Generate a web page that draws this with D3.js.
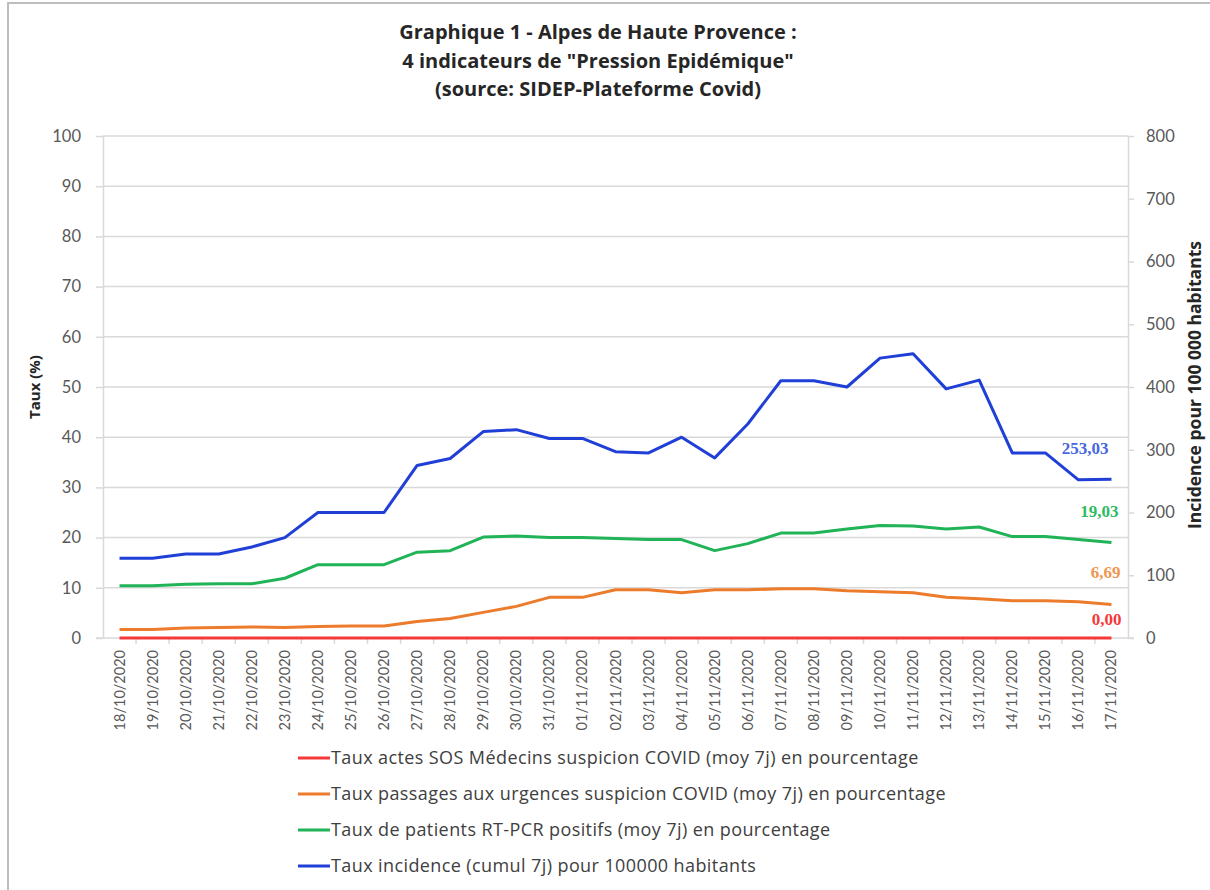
<!DOCTYPE html>
<html>
<head>
<meta charset="utf-8">
<script src="https://cdn.jsdelivr.net/npm/d3@7"></script>
<style>
  body { margin: 0; background: #fff; }
  svg { font-family: Lato, "Open Sans", sans-serif; }
</style>
</head>
<body>
<svg id="chart" width="1210" height="890"></svg>
<script>
const dates = ['18/10/2020', '19/10/2020', '20/10/2020', '21/10/2020', '22/10/2020', '23/10/2020',
  '24/10/2020', '25/10/2020', '26/10/2020', '27/10/2020', '28/10/2020', '29/10/2020', '30/10/2020',
  '31/10/2020', '01/11/2020', '02/11/2020', '03/11/2020', '04/11/2020', '05/11/2020', '06/11/2020',
  '07/11/2020', '08/11/2020', '09/11/2020', '10/11/2020', '11/11/2020', '12/11/2020', '13/11/2020',
  '14/11/2020', '15/11/2020', '16/11/2020', '17/11/2020'];

// left axis (%)
const sosMedecins = [0, 0, 0, 0, 0, 0, 0, 0, 0, 0, 0, 0, 0, 0, 0, 0, 0, 0, 0, 0, 0, 0, 0, 0, 0, 0, 0, 0, 0, 0, 0];
const urgences = [1.7, 1.7, 2.0, 2.1, 2.2, 2.1, 2.3, 2.4, 2.4, 3.3, 3.9, 5.1, 6.3, 8.1, 8.1, 9.6,
  9.6, 9.0, 9.6, 9.6, 9.8, 9.8, 9.4, 9.2, 9.0, 8.1, 7.8, 7.4, 7.4, 7.2, 6.69];
const rtPcr = [10.4, 10.4, 10.7, 10.8, 10.8, 11.9, 14.6, 14.6, 14.6, 17.1, 17.4, 20.1, 20.3, 20.0, 20.0, 19.8,
  19.6, 19.6, 17.4, 18.8, 20.9, 20.9, 21.7, 22.4, 22.3, 21.7, 22.1, 20.2, 20.2, 19.6, 19.03];
// right axis (pour 100 000 habitants)
const incidence = [127, 127, 134, 134, 145, 160, 200, 200, 200, 275, 286, 329, 332, 318, 318, 297,
  295, 320, 287, 341, 410, 410, 400, 446, 453, 397, 411, 295, 295, 252, 253.03];

const leftTicks = [0, 10, 20, 30, 40, 50, 60, 70, 80, 90, 100];
const rightTicks = [0, 100, 200, 300, 400, 500, 600, 700, 800];

const series = [
  { name: 'Taux actes SOS Médecins suspicion COVID (moy 7j) en pourcentage', values: sosMedecins, axis: 'left', color: '#f5393b', labelColor: '#f5393b' },
  { name: 'Taux passages aux urgences suspicion COVID (moy 7j) en pourcentage', values: urgences, axis: 'left', color: '#ec7b2c', labelColor: '#f0954e' },
  { name: 'Taux de patients RT-PCR positifs (moy 7j) en pourcentage', values: rtPcr, axis: 'left', color: '#21b357', labelColor: '#2dbb62' },
  { name: 'Taux incidence (cumul 7j) pour 100000 habitants', values: incidence, axis: 'right', color: '#1f3fd6', labelColor: '#4667df' }
];

const svg = d3.select('#chart');
const m = { left: 103, right: 1128, top: 136, bottom: 638 };

// frame
svg.append('rect')
  .attr('x', 8).attr('y', 3).attr('width', 1210).attr('height', 900)
  .attr('fill', 'none').attr('stroke', '#bdbdbd').attr('stroke-width', 2);

const x = d3.scaleBand().domain(dates).range([m.left, m.right]);
const yL = d3.scaleLinear().domain([0, 100]).range([m.bottom, m.top]);
const yR = d3.scaleLinear().domain([0, 800]).range([m.bottom, m.top]);
const cx = d => x(d) + x.bandwidth() / 2;

// title
const title = ['Graphique 1 - Alpes de Haute Provence :', '4 indicateurs de "Pression Epidémique"', '(source: SIDEP-Plateforme Covid)'];
svg.append('g').selectAll('text')
  .data(title)
  .enter().append('text')
  .attr('x', 598)
  .attr('y', (d, i) => 39 + i * 28.5)
  .attr('text-anchor', 'middle')
  .attr('font-family', '"Open Sans", sans-serif')
  .attr('font-size', 20)
  .attr('font-weight', 'bold')
  .attr('fill', '#262626')
  .text(d => d);

// grid + left axis
const gL = svg.append('g')
  .attr('transform', 'translate(' + m.left + ',0)')
  .call(d3.axisLeft(yL).tickValues(leftTicks).tickSize(7).tickPadding(15).tickSizeOuter(0));
gL.select('.domain').attr('stroke', '#d9d9d9').attr('stroke-width', 1.5);
gL.selectAll('.tick line').attr('stroke', '#d9d9d9').attr('stroke-width', 1.5);
gL.selectAll('.tick text').attr('font-size', 16.5).attr('fill', '#595959').attr('font-family', 'Lato, sans-serif');

svg.append('g').selectAll('line')
  .data(leftTicks.filter(d => d > 0))
  .enter().append('line')
  .attr('x1', m.left).attr('x2', m.right)
  .attr('y1', d => yL(d)).attr('y2', d => yL(d))
  .attr('stroke', '#d9d9d9').attr('stroke-width', 1.5);

// right axis
const gR = svg.append('g')
  .attr('transform', 'translate(' + m.right + ',0)')
  .call(d3.axisRight(yR).tickValues(rightTicks).tickSize(6).tickPadding(12).tickSizeOuter(0));
gR.select('.domain').attr('stroke', '#d9d9d9').attr('stroke-width', 1.5);
gR.selectAll('.tick line').attr('stroke', '#d9d9d9').attr('stroke-width', 1.5);
gR.selectAll('.tick text').attr('font-size', 16.5).attr('fill', '#595959').attr('font-family', 'Lato, sans-serif');

// x axis
svg.append('line')
  .attr('x1', m.left - 7).attr('x2', m.right + 6)
  .attr('y1', m.bottom).attr('y2', m.bottom)
  .attr('stroke', '#d9d9d9').attr('stroke-width', 1.5);
svg.append('g').selectAll('line')
  .data(dates.slice(1))
  .enter().append('line')
  .attr('x1', d => x(d)).attr('x2', d => x(d))
  .attr('y1', m.bottom).attr('y2', m.bottom + 6)
  .attr('stroke', '#d9d9d9').attr('stroke-width', 1.5);
svg.append('g').selectAll('text')
  .data(dates)
  .enter().append('text')
  .attr('transform', d => 'translate(' + (cx(d) + 5) + ',' + (m.bottom + 12) + ') rotate(-90)')
  .attr('text-anchor', 'end')
  .attr('font-size', 14.5)
  .attr('fill', '#595959')
  .text(d => d);

// axis titles
svg.append('text')
  .attr('transform', 'translate(40,387) rotate(-90)')
  .attr('text-anchor', 'middle')
  .attr('font-family', '"Open Sans", sans-serif')
  .attr('font-size', 15)
  .attr('font-weight', 'bold')
  .attr('fill', '#262626')
  .text('Taux (%)');
svg.append('text')
  .attr('transform', 'translate(1201,385) rotate(-90)')
  .attr('text-anchor', 'middle')
  .attr('font-family', '"Open Sans", sans-serif')
  .attr('font-size', 17.5)
  .attr('font-weight', 'bold')
  .attr('fill', '#262626')
  .text('Incidence pour 100 000 habitants');

// lines
series.forEach(s => {
  const y = s.axis === 'left' ? yL : yR;
  const line = d3.line()
    .x((d, i) => cx(dates[i]))
    .y(d => y(d));
  svg.append('path')
    .datum(s.values)
    .attr('fill', 'none')
    .attr('stroke', s.color)
    .attr('stroke-width', 3)
    .attr('stroke-linejoin', 'round')
    .attr('d', line);
});

// end labels
const fmt = v => v.toFixed(2).replace('.', ',');
const labelOffsets = [{ dx: 10, dy: -13 }, { dx: 9, dy: -26 }, { dx: 7, dy: -25 }, { dx: -3, dy: -25 }];
series.forEach((s, k) => {
  const y = s.axis === 'left' ? yL : yR;
  const last = s.values.length - 1;
  svg.append('text')
    .attr('x', cx(dates[last]) + labelOffsets[k].dx)
    .attr('y', y(s.values[last]) + labelOffsets[k].dy)
    .attr('text-anchor', 'end')
    .attr('font-family', '"Liberation Serif", "DejaVu Serif", serif')
    .attr('font-weight', 'bold')
    .attr('font-size', 17)
    .attr('fill', s.labelColor)
    .text(fmt(s.values[last]));
});

// legend
const legend = svg.append('g').selectAll('g')
  .data(series)
  .enter().append('g')
  .attr('transform', (d, i) => 'translate(298,' + (758 + i * 36) + ')');
legend.append('line')
  .attr('x1', 0).attr('x2', 32)
  .attr('stroke', d => d.color)
  .attr('stroke-width', 3);
legend.append('text')
  .attr('x', 33)
  .attr('y', 6)
  .attr('font-family', '"Open Sans", sans-serif')
  .attr('font-size', 18)
  .attr('letter-spacing', 0.4)
  .attr('fill', '#404040')
  .text(d => d.name);
</script>
</body>
</html>
